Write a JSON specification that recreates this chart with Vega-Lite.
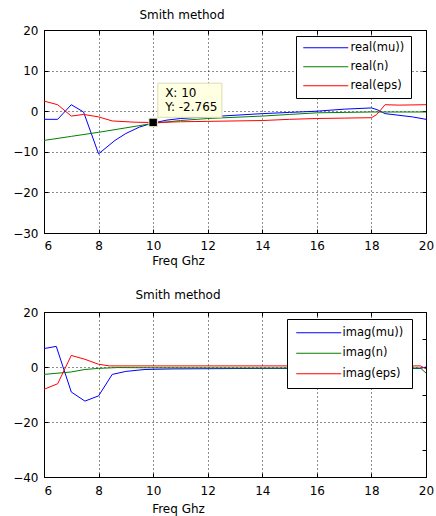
{
  "$schema": "https://vega.github.io/schema/vega-lite/v6.json",
  "background": "white",
  "padding": {"left": 12, "top": 8, "right": 5, "bottom": 2},
  "spacing": 21,
  "datasets": {
    "real": [
      {"s": "real(mu))", "f": 6, "v": -2},
      {"s": "real(mu))", "f": 6.5, "v": -2},
      {"s": "real(mu))", "f": 7, "v": 1.6},
      {"s": "real(mu))", "f": 7.45, "v": -0.2},
      {"s": "real(mu))", "f": 8, "v": -10.5},
      {"s": "real(mu))", "f": 8.6, "v": -7.2},
      {"s": "real(mu))", "f": 9, "v": -5.5},
      {"s": "real(mu))", "f": 9.5, "v": -3.9},
      {"s": "real(mu))", "f": 10, "v": -2.9},
      {"s": "real(mu))", "f": 10.5, "v": -2.2},
      {"s": "real(mu))", "f": 11, "v": -1.8},
      {"s": "real(mu))", "f": 12, "v": -1.4},
      {"s": "real(mu))", "f": 13, "v": -1.0},
      {"s": "real(mu))", "f": 14, "v": -0.6},
      {"s": "real(mu))", "f": 15, "v": -0.3},
      {"s": "real(mu))", "f": 16, "v": 0},
      {"s": "real(mu))", "f": 17, "v": 0.5},
      {"s": "real(mu))", "f": 18, "v": 0.8},
      {"s": "real(mu))", "f": 18.2, "v": 0.4},
      {"s": "real(mu))", "f": 18.5, "v": -0.6},
      {"s": "real(mu))", "f": 19.5, "v": -1.4},
      {"s": "real(mu))", "f": 20, "v": -2.0},
      {"s": "real(n)", "f": 6, "v": -7.2},
      {"s": "real(n)", "f": 7, "v": -6.2},
      {"s": "real(n)", "f": 8, "v": -5.2},
      {"s": "real(n)", "f": 9, "v": -4.1},
      {"s": "real(n)", "f": 10, "v": -3.0},
      {"s": "real(n)", "f": 11, "v": -2.3},
      {"s": "real(n)", "f": 12, "v": -1.8},
      {"s": "real(n)", "f": 13, "v": -1.5},
      {"s": "real(n)", "f": 14, "v": -1.2},
      {"s": "real(n)", "f": 15, "v": -0.8},
      {"s": "real(n)", "f": 16, "v": -0.4},
      {"s": "real(n)", "f": 17, "v": -0.3},
      {"s": "real(n)", "f": 18, "v": -0.2},
      {"s": "real(n)", "f": 19, "v": -0.2},
      {"s": "real(n)", "f": 20, "v": -0.2},
      {"s": "real(eps)", "f": 6, "v": 2.5},
      {"s": "real(eps)", "f": 6.5, "v": 1.6},
      {"s": "real(eps)", "f": 7, "v": -1.2},
      {"s": "real(eps)", "f": 7.45, "v": -0.8},
      {"s": "real(eps)", "f": 8, "v": -1.4},
      {"s": "real(eps)", "f": 8.5, "v": -2.4},
      {"s": "real(eps)", "f": 9.3, "v": -2.7},
      {"s": "real(eps)", "f": 10, "v": -2.8},
      {"s": "real(eps)", "f": 11, "v": -2.6},
      {"s": "real(eps)", "f": 12, "v": -2.5},
      {"s": "real(eps)", "f": 13, "v": -2.4},
      {"s": "real(eps)", "f": 14, "v": -2.3},
      {"s": "real(eps)", "f": 15, "v": -2.0},
      {"s": "real(eps)", "f": 16, "v": -1.8},
      {"s": "real(eps)", "f": 17, "v": -1.7},
      {"s": "real(eps)", "f": 18, "v": -1.6},
      {"s": "real(eps)", "f": 18.2, "v": -0.8},
      {"s": "real(eps)", "f": 18.5, "v": 1.6},
      {"s": "real(eps)", "f": 19, "v": 1.5},
      {"s": "real(eps)", "f": 20, "v": 1.6}
    ],
    "imag": [
      {"s": "imag(mu))", "f": 6, "v": 6.7},
      {"s": "imag(mu))", "f": 6.45, "v": 7.5},
      {"s": "imag(mu))", "f": 7, "v": -9.1},
      {"s": "imag(mu))", "f": 7.5, "v": -12.4},
      {"s": "imag(mu))", "f": 8, "v": -10.5},
      {"s": "imag(mu))", "f": 8.5, "v": -2.7},
      {"s": "imag(mu))", "f": 9, "v": -1.6},
      {"s": "imag(mu))", "f": 9.7, "v": -0.9},
      {"s": "imag(mu))", "f": 10.7, "v": -0.7},
      {"s": "imag(mu))", "f": 14, "v": -0.5},
      {"s": "imag(mu))", "f": 19.8, "v": -0.5},
      {"s": "imag(mu))", "f": 20, "v": 0},
      {"s": "imag(n)", "f": 6, "v": -2.7},
      {"s": "imag(n)", "f": 7, "v": -1.8},
      {"s": "imag(n)", "f": 7.5, "v": -0.9},
      {"s": "imag(n)", "f": 8, "v": -0.5},
      {"s": "imag(n)", "f": 8.7, "v": -0.2},
      {"s": "imag(n)", "f": 10, "v": -0.3},
      {"s": "imag(n)", "f": 14, "v": -0.4},
      {"s": "imag(n)", "f": 19.8, "v": -0.4},
      {"s": "imag(n)", "f": 20, "v": -2.2},
      {"s": "imag(eps)", "f": 6, "v": -8.1},
      {"s": "imag(eps)", "f": 6.5, "v": -6.1},
      {"s": "imag(eps)", "f": 7, "v": 4.2},
      {"s": "imag(eps)", "f": 7.5, "v": 2.8},
      {"s": "imag(eps)", "f": 8, "v": 1.0},
      {"s": "imag(eps)", "f": 8.4, "v": 0.4},
      {"s": "imag(eps)", "f": 14, "v": 0.4},
      {"s": "imag(eps)", "f": 19.8, "v": 0.4},
      {"s": "imag(eps)", "f": 20, "v": -0.7}
    ],
    "cursor": [
      {"f": 10, "v": -2.765, "lab": "X: 10\nY: -2.765"}
    ]
  },
  "vconcat": [
    {
      "width": 382,
      "height": 203,
      "title": {"text": "Smith method", "frame": "group", "dx": -53, "offset": 2},
      "layer": [
        {
          "data": {"name": "real"},
          "mark": {"type": "line", "strokeWidth": 1},
          "encoding": {
            "x": {"field": "f", "type": "quantitative", "scale": {"domain": [6, 20], "nice": false},
                  "axis": {"values": [6, 8, 10, 12, 14, 16, 18, 20], "title": "Freq Ghz", "titleX": 134, "titlePadding": 4, "titleFontWeight": "normal", "labelPadding": 11,
                           "labelAlign": {"condition": {"test": "datum.value == 6", "value": "left"}, "value": "center"}}},
            "y": {"field": "v", "type": "quantitative", "scale": {"domain": [-30, 20], "nice": false},
                  "axis": {"values": [-30, -20, -10, 0, 10, 20], "title": null}},
            "color": {"field": "s", "type": "nominal",
                      "scale": {"domain": ["real(mu))", "real(n)", "real(eps)"], "range": ["#0000ff", "#008000", "#ff0000"]},
                      "legend": {"title": null, "orient": "none", "legendX": 252, "legendY": 6, "symbolType": "M-1,0H9", "symbolSize": 81, "symbolStrokeWidth": 1, "labelOffset": 37, "labelFontSize": 11.5, "strokeColor": "black", "fillColor": "white", "padding": 6, "rowPadding": 6}}
          }
        },
        {
          "data": {"name": "cursor"},
          "mark": {"type": "rect", "fill": "#ffffe1", "stroke": "#dcdcb4", "strokeWidth": 1},
          "encoding": {
            "x": {"datum": 10.17, "type": "quantitative", "axis": null},
            "x2": {"datum": 12.52},
            "y": {"datum": 6.9, "type": "quantitative", "axis": null},
            "y2": {"datum": -1.5}
          }
        },
        {
          "data": {"name": "cursor"},
          "mark": {"type": "text", "align": "left", "baseline": "alphabetic", "dx": 12, "dy": -25, "lineBreak": "\n", "lineHeight": 14, "fontSize": 12, "font": "DejaVu Sans", "color": "black"},
          "encoding": {
            "x": {"field": "f", "type": "quantitative", "axis": null},
            "y": {"field": "v", "type": "quantitative", "axis": null},
            "text": {"field": "lab"}
          }
        },
        {
          "data": {"name": "cursor"},
          "mark": {"type": "point", "shape": "square", "filled": true, "size": 72, "fill": "black", "stroke": "#f0f0c8", "strokeWidth": 1, "opacity": 1},
          "encoding": {
            "x": {"field": "f", "type": "quantitative",
                  "axis": {"orient": "top", "labels": false, "grid": false, "title": null, "values": [6, 8, 10, 12, 14, 16, 18, 20]}},
            "y": {"field": "v", "type": "quantitative",
                  "axis": {"orient": "right", "labels": false, "grid": false, "title": null, "values": [-30, -20, -10, 0, 10, 20]}}
          }
        }
      ],
      "resolve": {"axis": {"x": "independent", "y": "independent"}}
    },
    {
      "width": 382,
      "height": 165,
      "title": {"text": "Smith method", "frame": "group", "dx": -57, "offset": 4},
      "layer": [
        {
          "data": {"name": "imag"},
          "mark": {"type": "line", "strokeWidth": 1},
          "encoding": {
            "x": {"field": "f", "type": "quantitative", "scale": {"domain": [6, 20], "nice": false},
                  "axis": {"values": [6, 8, 10, 12, 14, 16, 18, 20], "title": "Freq Ghz", "titleX": 134, "titlePadding": 7, "titleFontWeight": "normal", "labelPadding": 12,
                           "labelAlign": {"condition": {"test": "datum.value == 6", "value": "left"}, "value": "center"}}},
            "y": {"field": "v", "type": "quantitative", "scale": {"domain": [-40, 20], "nice": false},
                  "axis": {"values": [-40, -20, 0, 20], "title": null}},
            "color": {"field": "s", "type": "nominal",
                      "scale": {"domain": ["imag(mu))", "imag(n)", "imag(eps)"], "range": ["#0000ff", "#008000", "#ff0000"]},
                      "legend": {"title": null, "orient": "none", "legendX": 243, "legendY": 7, "symbolType": "M-1,0H9", "symbolSize": 81, "symbolStrokeWidth": 1, "labelOffset": 36, "labelFontSize": 11.5, "strokeColor": "black", "fillColor": "white", "padding": 8, "rowPadding": 7.5}}
          }
        },
        {
          "data": {"name": "imag"},
          "mark": {"type": "point", "opacity": 0},
          "encoding": {
            "x": {"field": "f", "type": "quantitative",
                  "axis": {"orient": "top", "labels": false, "grid": false, "title": null, "values": [6, 8, 10, 12, 14, 16, 18, 20]}},
            "y": {"field": "v", "type": "quantitative",
                  "axis": {"orient": "right", "labels": false, "grid": false, "title": null, "values": [-40, -30, -20, -10, 0, 10, 20]}}
          }
        }
      ],
      "resolve": {"axis": {"x": "independent", "y": "independent"}, "scale": {"color": "independent"}}
    }
  ],
  "resolve": {"scale": {"color": "independent"}, "legend": {"color": "independent"}},
  "config": {
    "font": "DejaVu Sans",
    "view": {"stroke": "black", "strokeWidth": 1},
    "axis": {
      "labelFont": "DejaVu Sans", "labelFontSize": 12, "labelColor": "black", "labelFlush": false, "labelPadding": 10,
      "titleFont": "DejaVu Sans", "titleFontSize": 12, "titleFontWeight": "normal", "titleColor": "black",
      "domain": false, "ticks": true, "tickColor": "black", "tickSize": -4, "tickWidth": 1,
      "grid": true, "gridColor": "black", "gridDash": [1, 3], "gridOpacity": 0.9, "gridWidth": 1
    },
    "title": {"font": "DejaVu Sans", "fontSize": 12, "fontWeight": "normal", "color": "black"},
    "legend": {"labelFont": "DejaVu Sans", "labelFontSize": 12, "labelColor": "black"}
  }
}
